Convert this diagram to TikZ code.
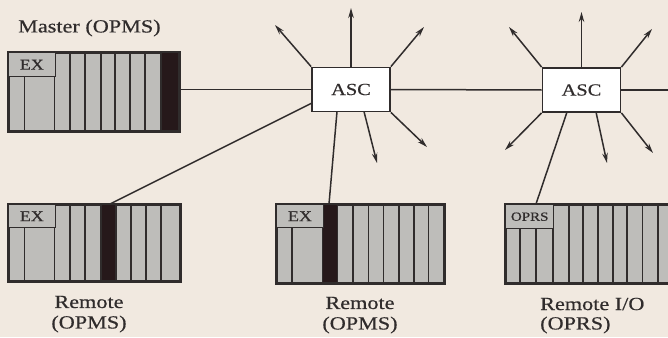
\documentclass[tikz,border=0pt]{standalone}
\usepackage{fontspec}
\setmainfont[FakeStretch=1.2,FakeBold=0.5]{Liberation Serif}
\usetikzlibrary{arrows.meta}
\definecolor{bgc}{RGB}{241,233,224}
\definecolor{rackc}{RGB}{190,189,186}
\definecolor{inkc}{RGB}{48,44,44}
\definecolor{barc}{RGB}{38,24,26}
\tikzset{
  rackbox/.style={draw=inkc, line width=1.8pt, fill=rackc, inner sep=0pt, anchor=north west},
  slot/.style={draw=inkc, line width=1.4pt},
  bar/.style={fill=barc},
  tagbox/.style={draw=inkc, line width=1.4pt, inner sep=0pt, anchor=north west, text=inkc},
  ascbox/.style={draw=inkc, line width=1.8pt, fill=white, minimum width=78pt, minimum height=44pt, inner sep=0pt, text=inkc, font=\fontsize{17}{17}\selectfont},
  link/.style={draw=inkc, line width=1.5pt},
  ray/.style={draw=inkc, line width=1.5pt, -{Stealth[length=10pt,width=5.5pt]}},
  lbl/.style={text=inkc, font=\fontsize{18.5}{20}\selectfont, inner sep=0pt}
}
\begin{document}
\begin{tikzpicture}[x=1pt,y=-1pt]
\fill[bgc] (0,0) rectangle (668,337);
\useasboundingbox (0,0) rectangle (668,337);
\clip (0,0) rectangle (668,337);

% ---------- Master rack ----------
\node[rackbox, minimum width=170.3pt, minimum height=78pt] (m) at (7.7,52) {};
\fill[bar] (161,52) rectangle (178,130);
\foreach \x in {54.5,70,85,101,115,130,145,161} \draw[slot] (\x,52) -- (\x,130);
\draw[slot] (24.7,76) -- (24.7,130);
\node[tagbox, minimum width=46.8pt, minimum height=24pt, fill=rackc, font=\fontsize{15}{15}\selectfont] (mex) at (7.7,52) {EX};
\draw[draw=inkc, line width=1.8pt] (m.north west) rectangle (m.south east);
\node[lbl, anchor=west] (mlbl) at (18,28) {Master (OPMS)};

% ---------- Remote 1 ----------
\node[rackbox, minimum width=171.3pt, minimum height=76pt] (r1) at (7.7,204) {};
\fill[bar] (101,204) rectangle (116,280);
\foreach \x in {54.5,70,85,101,116,131,146,161} \draw[slot] (\x,204) -- (\x,280);
\draw[slot] (24.7,227) -- (24.7,280);
\node[tagbox, minimum width=46.8pt, minimum height=23pt, fill=rackc, font=\fontsize{15}{15}\selectfont] (r1ex) at (7.7,204) {EX};
\draw[draw=inkc, line width=1.8pt] (r1.north west) rectangle (r1.south east);
\node[lbl] (r1a) at (89,302) {Remote};
\node[lbl] (r1b) at (89,324) {(OPMS)};

% ---------- Remote 2 ----------
\node[rackbox, minimum width=167pt, minimum height=78pt] (r2) at (276,204) {};
\fill[bar] (322.5,204) rectangle (337.5,282);
\foreach \x in {322.5,337.5,353,368.5,383.5,399,414,428.5} \draw[slot] (\x,204) -- (\x,282);
\draw[slot] (292,227) -- (292,282);
\node[tagbox, minimum width=46.5pt, minimum height=23pt, fill=rackc, font=\fontsize{15}{15}\selectfont] (r2ex) at (276,204) {EX};
\draw[draw=inkc, line width=1.8pt] (r2.north west) rectangle (r2.south east);
\node[lbl] (r2a) at (360,303) {Remote};
\node[lbl] (r2b) at (360,325) {(OPMS)};

% ---------- Remote I/O ----------
\node[rackbox, minimum width=170pt, minimum height=78pt] (r3) at (505,204) {};
\foreach \x in {553,569,583,598,613,627,642.5,658} \draw[slot] (\x,204) -- (\x,282);
\draw[slot] (520,228) -- (520,282);
\draw[slot] (536,228) -- (536,282);
\node[tagbox, minimum width=48pt, minimum height=24pt, fill=rackc, font=\fontsize{12.5}{12.5}\selectfont] (r3ex) at (505,204) {OPRS};
\draw[draw=inkc, line width=1.8pt] (r3.north west) rectangle (r3.south east);
\node[lbl, anchor=west] (r3a) at (540,304) {Remote I/O};
\node[lbl, anchor=west] (r3b) at (540,325) {(OPRS)};

% ---------- ASC nodes ----------
\node[ascbox] (a1) at (351,89.5) {ASC};
\node[ascbox] (a2) at (581.5,90) {ASC};

% ---------- links ----------
\coordinate (e) at (670,90);
\draw[link] (m.east |- a1.west) -- (a1.west);
\draw[link] (a1.east) -- (a2.west);
\draw[link] (a2.east) -- (e);

\coordinate (a1r1) at (312,103);
\coordinate (r1t) at (110,204);
\draw[link] (a1r1) -- (r1t);
\coordinate (a1r2) at (337,111.5);
\coordinate (r2t) at (329,204);
\draw[link] (a1r2) -- (r2t);
\coordinate (a2r3) at (567,112);
\coordinate (r3t) at (536,204);
\draw[link] (a2r3) -- (r3t);

% ---------- rays ASC 1 ----------
\coordinate (t11) at (351,8);
\coordinate (t12) at (275,25);
\coordinate (t13) at (424,27);
\coordinate (t14) at (427,147);
\coordinate (t15) at (377,163);
\draw[ray] (a1.north) -- (t11);
\draw[ray] (a1.north west) -- (t12);
\draw[ray] (a1.north east) -- (t13);
\draw[ray] (a1.south east) -- (t14);
\draw[ray] (364,111.5) -- (t15);

% ---------- rays ASC 2 ----------
\coordinate (t21) at (581.5,12);
\coordinate (t22) at (509,27);
\coordinate (t23) at (652,29);
\coordinate (t24) at (505,150);
\coordinate (t25) at (607,163);
\coordinate (t26) at (653,153);
\draw[ray] (a2.north) -- (t21);
\draw[ray] (a2.north west) -- (t22);
\draw[ray] (a2.north east) -- (t23);
\draw[ray] (a2.south west) -- (t24);
\draw[ray] (596,112) -- (t25);
\draw[ray] (a2.south east) -- (t26);
\end{tikzpicture}
\end{document}
